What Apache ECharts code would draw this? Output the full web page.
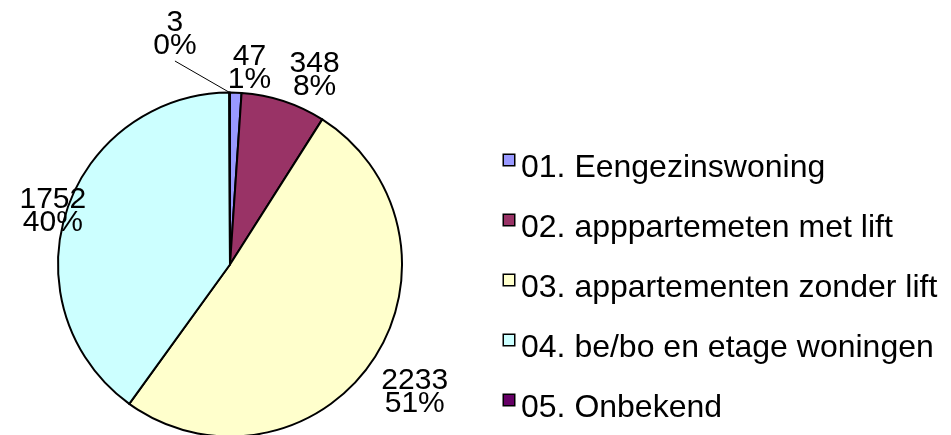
<!DOCTYPE html>
<html>
<head>
<meta charset="utf-8">
<script src="https://cdn.jsdelivr.net/npm/echarts@6/dist/echarts.min.js"></script>
<style>
html,body{margin:0;padding:0;background:#fff;}
#chart{width:951px;height:435px;}
</style>
</head>
<body>
<div id="chart"></div>
<script>
const categories = ["01. Eengezinswoning", "02. apppartemeten met lift", "03. appartementen zonder lift", "04. be/bo en etage woningen", "05. Onbekend"];
const values = [47, 348, 2233, 1752, 3];
const colors = ["#9999FF", "#993366", "#FFFFCC", "#CCFFFF", "#660066"];
// label nudges relative to ECharts' default outside placement (layout only)
const labelNudge = [[-8, -24], [6, -26], [9, 31], [20, -1], [-33, -58]];

const FONT = "'Liberation Sans', Arial, sans-serif";
const chart = echarts.init(document.getElementById('chart'), null, {renderer: 'canvas'});

const rich = { t: { fontSize: 32, fontFamily: FONT, color: '#000', lineHeight: 26, padding: [0, 0, 0, 7] } };
colors.forEach((c, i) => {
  rich['m' + i] = { width: 10, height: 10, backgroundColor: c, borderColor: '#000', borderWidth: 1.5, verticalAlign: 'top', lineHeight: 26 };
});

const option = {
  animation: false,
  backgroundColor: '#fff',
  legend: {
    orient: 'vertical',
    left: 498,
    top: 144,
    padding: 0,
    itemGap: 20,
    itemWidth: 0,
    itemHeight: 0,
    icon: 'rect',
    itemStyle: { opacity: 0 },
    data: categories,
    formatter: (name) => '{m' + categories.indexOf(name) + '|}{t|' + name + '}',
    textStyle: { rich: rich, fontSize: 32, lineHeight: 26, fontFamily: FONT, color: '#000' }
  },
  series: [{
    type: 'pie',
    center: [230, 264.5],
    radius: 172,
    startAngle: 90,
    clockwise: true,
    avoidLabelOverlap: false,
    percentPrecision: 0,
    itemStyle: { borderColor: '#000', borderWidth: 2 },
    label: {
      show: true,
      position: 'outside',
      formatter: '{c}\n{d}%',
      fontSize: 30,
      lineHeight: 23,
      fontFamily: FONT,
      color: '#000',
      distanceToLabelLine: 0
    },
    labelLine: { show: false, length: 0, length2: 0 },
    labelLayout: function (p) {
      const n = labelNudge[p.dataIndex];
      const r = p.labelRect;
      return { x: r.x + r.width / 2 + n[0], y: r.y + r.height / 2 + n[1], align: 'center', verticalAlign: 'middle' };
    },
    emphasis: { disabled: true },
    data: categories.map((name, i) => {
      const d = { name: name, value: values[i], itemStyle: { color: colors[i] } };
      if (i === 4) d.labelLine = { show: true, lineStyle: { color: '#000', width: 1 } };
      return d;
    })
  }]
};
chart.setOption(option);
</script>
</body>
</html>
